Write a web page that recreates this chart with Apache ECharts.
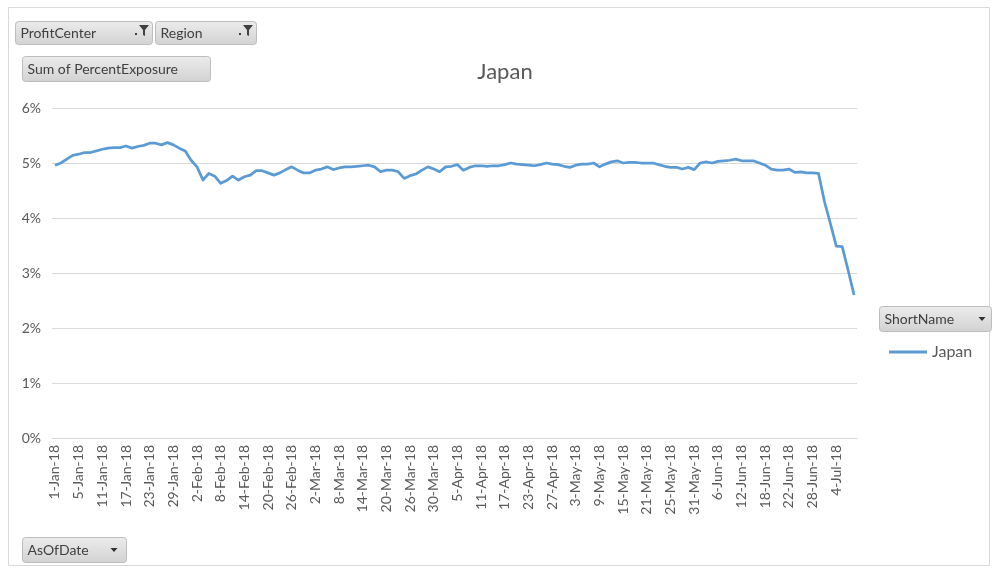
<!DOCTYPE html>
<html>
<head>
<meta charset="utf-8">
<script src="https://cdn.jsdelivr.net/npm/echarts@6/dist/echarts.min.js"></script>
<style>
html,body{margin:0;padding:0;background:#fff;}
#chart{width:997px;height:571px;}
</style>
</head>
<body>
<div id="chart"></div>
<script>
var dates = [
"1-Jan-18","2-Jan-18","3-Jan-18","4-Jan-18","5-Jan-18","8-Jan-18","9-Jan-18","10-Jan-18","11-Jan-18","12-Jan-18",
"15-Jan-18","16-Jan-18","17-Jan-18","18-Jan-18","19-Jan-18","22-Jan-18","23-Jan-18","24-Jan-18","25-Jan-18","26-Jan-18",
"29-Jan-18","30-Jan-18","31-Jan-18","1-Feb-18","2-Feb-18","5-Feb-18","6-Feb-18","7-Feb-18","8-Feb-18","9-Feb-18",
"12-Feb-18","13-Feb-18","14-Feb-18","15-Feb-18","16-Feb-18","19-Feb-18","20-Feb-18","21-Feb-18","22-Feb-18","23-Feb-18",
"26-Feb-18","27-Feb-18","28-Feb-18","1-Mar-18","2-Mar-18","5-Mar-18","6-Mar-18","7-Mar-18","8-Mar-18","9-Mar-18",
"12-Mar-18","13-Mar-18","14-Mar-18","15-Mar-18","16-Mar-18","19-Mar-18","20-Mar-18","21-Mar-18","22-Mar-18","23-Mar-18",
"26-Mar-18","27-Mar-18","28-Mar-18","29-Mar-18","30-Mar-18","2-Apr-18","3-Apr-18","4-Apr-18","5-Apr-18","6-Apr-18",
"9-Apr-18","10-Apr-18","11-Apr-18","12-Apr-18","13-Apr-18","16-Apr-18","17-Apr-18","18-Apr-18","19-Apr-18","20-Apr-18",
"23-Apr-18","24-Apr-18","25-Apr-18","26-Apr-18","27-Apr-18","30-Apr-18","1-May-18","2-May-18","3-May-18","4-May-18",
"7-May-18","8-May-18","9-May-18","10-May-18","11-May-18","14-May-18","15-May-18","16-May-18","17-May-18","18-May-18",
"21-May-18","22-May-18","23-May-18","24-May-18","25-May-18","28-May-18","29-May-18","30-May-18","31-May-18","1-Jun-18",
"4-Jun-18","5-Jun-18","6-Jun-18","7-Jun-18","8-Jun-18","11-Jun-18","12-Jun-18","13-Jun-18","14-Jun-18","15-Jun-18",
"18-Jun-18","19-Jun-18","20-Jun-18","21-Jun-18","22-Jun-18","25-Jun-18","26-Jun-18","27-Jun-18","28-Jun-18","29-Jun-18",
"2-Jul-18","3-Jul-18","4-Jul-18","5-Jul-18","6-Jul-18","9-Jul-18"
];
var japan = [
4.96,5.00,5.07,5.14,5.16,5.19,5.19,5.22,5.25,5.27,
5.28,5.28,5.31,5.27,5.30,5.32,5.36,5.36,5.33,5.37,
5.33,5.27,5.22,5.05,4.93,4.69,4.81,4.76,4.63,4.68,
4.76,4.69,4.75,4.78,4.86,4.86,4.82,4.78,4.82,4.88,
4.93,4.87,4.82,4.82,4.87,4.89,4.93,4.88,4.91,4.93,
4.93,4.94,4.95,4.96,4.93,4.84,4.87,4.87,4.84,4.72,
4.77,4.80,4.87,4.93,4.89,4.84,4.93,4.94,4.97,4.87,
4.92,4.95,4.95,4.94,4.95,4.95,4.97,5.00,4.98,4.97,
4.96,4.95,4.97,5.00,4.98,4.97,4.94,4.92,4.96,4.98,
4.98,5.00,4.93,4.98,5.02,5.04,5.00,5.01,5.01,5.00,
5.00,5.00,4.97,4.94,4.92,4.92,4.89,4.92,4.88,5.00,
5.02,5.00,5.03,5.04,5.05,5.07,5.04,5.04,5.04,5.00,
4.96,4.89,4.87,4.87,4.89,4.83,4.84,4.82,4.82,4.81,
4.30,3.90,3.49,3.48,3.05,2.60
];
var yTicks = [0,1,2,3,4,5,6];
var seriesName = "Japan";
var titleText = "Japan";

var FONT = "Lato, 'Open Sans', sans-serif";
var TXT = "#595959";

function button(x, y, w, h, label, extra) {
  var children = [
    {type:'rect', shape:{x:x,y:y,width:w,height:h,r:3},
     style:{fill:new echarts.graphic.LinearGradient(0,0,0,1,[{offset:0,color:'#ececec'},{offset:1,color:'#d2d2d2'}]),
            stroke:'#bdbdbd', lineWidth:1}},
    {type:'text', style:{x:x+5, y:y+h/2+0.5, text:label, fill:'#404040', font:'14px '+FONT, textVerticalAlign:'middle', textAlign:'left'}}
  ];
  return children.concat(extra || []);
}
function funnel(cx, cy) {
  return [
    {type:'polygon', shape:{points:[[cx-5,cy-6],[cx+5,cy-6],[cx+1,cy-1],[cx+1,cy+5],[cx-1,cy+4],[cx-1,cy-1]]}, style:{fill:'#404040'}},
    {type:'rect', shape:{x:cx-9,y:cy+2,width:2,height:2}, style:{fill:'#404040'}}
  ];
}
function tri(cx, cy) {
  return [{type:'polygon', shape:{points:[[cx-3.5,cy-2],[cx+3.5,cy-2],[cx,cy+2]]}, style:{fill:'#303030'}}];
}

var graphics = [];
graphics.push({type:'rect', shape:{x:8.5,y:7.5,width:981,height:558}, style:{fill:'none', stroke:'#d9d9d9', lineWidth:1}, z:-1});
graphics = graphics.concat(button(15.5, 21.5, 137, 23, 'ProfitCenter', funnel(144, 31)));
graphics = graphics.concat(button(155.5, 21.5, 101, 23, 'Region', funnel(248, 31)));
graphics = graphics.concat(button(22.5, 56.5, 188, 25, 'Sum of PercentExposure'));
graphics = graphics.concat(button(879.5, 306.5, 112, 25, 'ShortName', tri(982, 319)));
graphics = graphics.concat(button(22.5, 537.5, 104, 25, 'AsOfDate', tri(114, 550)));
graphics.push({type:'text', style:{x:505, y:72, text:titleText, fill:TXT, font:'22px '+FONT, textAlign:'center', textVerticalAlign:'middle'}});

var chart = echarts.init(document.getElementById('chart'), null, {renderer:'canvas'});
chart.setOption({
  animation:false,
  backgroundColor:'#ffffff',
  grid:{left:52, right:140, top:108, bottom:133, containLabel:false},
  legend:{
    data:[{name:seriesName, icon:'rect'}],
    left:884, top:339, itemWidth:38, itemHeight:3, itemGap:3,
    textStyle:{color:TXT, fontSize:16, fontFamily:FONT}
  },
  xAxis:{
    type:'category', data:dates, boundaryGap:true,
    axisLine:{show:true, lineStyle:{color:'#d9d9d9'}},
    axisTick:{show:false},
    axisLabel:{interval:3, rotate:90, color:TXT, fontSize:14, fontFamily:FONT, margin:7}
  },
  yAxis:{
    type:'value', min:yTicks[0], max:yTicks[yTicks.length-1], interval:1,
    axisLine:{show:false}, axisTick:{show:false},
    axisLabel:{formatter:'{value}%', color:TXT, fontSize:14, fontFamily:FONT, margin:11},
    splitLine:{lineStyle:{color:'#d9d9d9', width:1}}
  },
  series:[{
    name:seriesName, type:'line', data:japan, symbol:'none', smooth:false,
    lineStyle:{color:'#5b9bd5', width:2.75, join:'round'},
    itemStyle:{color:'#5b9bd5'}
  }],
  graphic:graphics
});
</script>
</body>
</html>
